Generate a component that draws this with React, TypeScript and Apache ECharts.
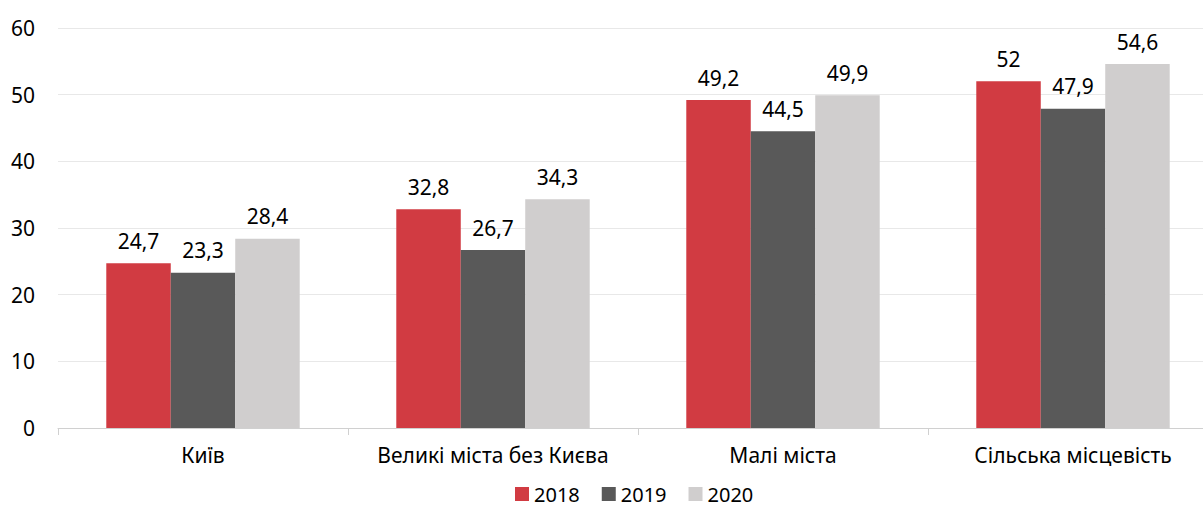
import React, { useEffect, useRef } from "react";
import * as echarts from "echarts";

const categories = ["Київ", "Великі міста без Києва", "Малі міста", "Сільська місцевість"];
const seriesNames = ["2018", "2019", "2020"];
const values2018 = [24.7, 32.8, 49.2, 52];
const values2019 = [23.3, 26.7, 44.5, 47.9];
const values2020 = [28.4, 34.3, 49.9, 54.6];
const colors = ["#D13B42", "#595959", "#D0CECE"];

const FONT = "'Noto Sans', sans-serif";

export default function App() {
  const ref = useRef<HTMLDivElement>(null);
  useEffect(() => {
    document.body.style.margin = "0";
    document.body.style.overflow = "hidden";
    const chart = echarts.init(ref.current!, null, { renderer: "svg" });
    const data = [values2018, values2019, values2020];
    chart.setOption({
      animation: false,
      textStyle: { fontFamily: FONT },
      grid: { left: 58, right: 0, top: 28, bottom: 79, containLabel: false },
      legend: {
        data: seriesNames,
        top: 484,
        left: 515,
        padding: 0,
        itemWidth: 14,
        itemHeight: 14,
        itemGap: 22,
        icon: "rect",
        textStyle: { fontSize: 20, lineHeight: 20, color: "#000", fontFamily: FONT },
      },
      xAxis: {
        type: "category",
        data: categories,
        axisLine: { lineStyle: { color: "#D0D0D0", width: 1 } },
        axisTick: { show: true, length: 7, lineStyle: { color: "#D0D0D0" } },
        axisLabel: { interval: 0, fontSize: 21, color: "#000", margin: 16, fontFamily: FONT },
      },
      yAxis: {
        type: "value",
        min: 0,
        max: 60,
        interval: 10,
        axisLine: { show: false },
        axisTick: { show: false },
        splitLine: { lineStyle: { color: "#E8E8E8", width: 1 } },
        axisLabel: { fontSize: 21, color: "#000", margin: 23, fontFamily: FONT },
      },
      series: seriesNames.map((name, i) => ({
        name,
        type: "bar",
        data: data[i],
        barGap: "0%",
        barCategoryGap: "33.3%",
        itemStyle: { color: colors[i] },
        label: {
          show: true,
          position: "top",
          distance: 12,
          fontSize: 21,
          color: "#000",
          fontFamily: FONT,
          formatter: (p: any) => String(p.value).replace(".", ","),
        },
      })),
    });
    return () => chart.dispose();
  }, []);
  return <div ref={ref} style={{ width: 1218, height: 507 }} />;
}
